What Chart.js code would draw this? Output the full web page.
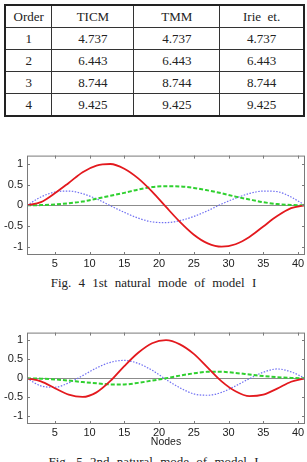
<!DOCTYPE html>
<html>
<head>
<meta charset="utf-8">
<script src="https://cdn.jsdelivr.net/npm/chart.js@4.4.0/dist/chart.umd.min.js"></script>
<style>
  html, body { margin: 0; padding: 0; background: #fff; }
  body { width: 307px; height: 462px; overflow: hidden; position: relative; }
  table {
    position: absolute; left: 4px; top: 4px; width: 301px;
    border-collapse: collapse; border: 2px solid #222;
    font-family: "Liberation Serif", serif; font-size: 13px; color: #222;
  }
  td { border: 1px solid #333; height: 21px; padding: 0; text-align: center; }
  canvas { position: absolute; left: 0; }
  .caption {
    position: absolute; left: 0; width: 307px; text-align: center;
    font-family: "Liberation Serif", serif; font-size: 13px; color: #222;
    word-spacing: 4px; line-height: 16px;
  }
</style>
</head>
<body>
<table id="freqTable"></table>
<canvas id="mode1Chart" width="307" height="125" style="top:145px"></canvas>
<div class="caption" style="top:275px">Fig. 4 1st natural mode of model I</div>
<canvas id="mode2Chart" width="307" height="126" style="top:322px"></canvas>
<div class="caption" style="top:454px">Fig. 5 2nd natural mode of model I</div>
<script>
// tablo verileri
const tableHeader = ['Order', 'TICM', 'TMM', 'Irie\u00a0 et.'];
const orders = ['1', '2', '3', '4'];
const ticm = ['4.737', '6.443', '8.744', '9.425'];
const tmm = ['4.737', '6.443', '8.744', '9.425'];
const irie = ['4.737', '6.443', '8.744', '9.425'];

// mod şekilleri (tek numaralı düğümlerde okunan değerler)
const nodes = [1, 3, 5, 7, 9, 11, 13, 15, 17, 19, 21, 23, 25, 27, 29, 31, 33, 35, 37, 39, 41];
const xTicks = [5, 10, 15, 20, 25, 30, 35, 40];
const yTicks = [-1, -0.5, 0, 0.5, 1];

const mode1Red = [0, 0.075, 0.29, 0.54, 0.80, 0.96, 0.997, 0.884, 0.65, 0.33, -0.04, -0.40, -0.71, -0.92, -1.0, -0.94, -0.765, -0.51, -0.26, -0.07, 0];
const mode1Green = [0, 0.005, 0.02, 0.05, 0.09, 0.16, 0.23, 0.30, 0.38, 0.44, 0.46, 0.455, 0.42, 0.36, 0.29, 0.21, 0.14, 0.075, 0.03, 0.008, 0];
const mode1Blue = [0, 0.20, 0.32, 0.344, 0.28, 0.155, -0.01, -0.17, -0.31, -0.40, -0.418, -0.37, -0.27, -0.13, 0.03, 0.17, 0.285, 0.344, 0.33, 0.20, 0];

const mode2Red = [0, -0.08, -0.26, -0.43, -0.49, -0.37, -0.07, 0.32, 0.67, 0.92, 1.0, 0.89, 0.64, 0.28, -0.08, -0.34, -0.47, -0.43, -0.27, -0.09, 0];
const mode2Green = [0, -0.01, -0.03, -0.06, -0.10, -0.13, -0.16, -0.16, -0.12, -0.06, 0.0, 0.07, 0.13, 0.17, 0.17, 0.14, 0.10, 0.06, 0.03, 0.01, 0];
const mode2Blue = [0, -0.20, -0.235, -0.12, 0.07, 0.27, 0.42, 0.47, 0.39, 0.21, -0.03, -0.25, -0.41, -0.445, -0.37, -0.20, -0.01, 0.16, 0.245, 0.17, 0];

const frameColor = '#7a7a7a';

function buildTable() {
    const table = document.getElementById('freqTable');
    const head = table.insertRow();
    const widths = [46, 83, 87, 85];
    tableHeader.forEach((h, i) => {
        const c = head.insertCell();
        c.textContent = h;
        c.style.width = widths[i] + 'px';
    });
    orders.forEach((o, i) => {
        const row = table.insertRow();
        [o, ticm[i], tmm[i], irie[i]].forEach(v => {
            row.insertCell().textContent = v;
        });
    });
}

// MATLAB tarzı çerçeve ve içe doğru tik çizgileri
const frameTicks = {
    id: 'frameTicks',
    afterDatasetsDraw(chart) {
        const { ctx, chartArea: a, scales: { x, y } } = chart;
        ctx.save();
        ctx.strokeStyle = frameColor;
        ctx.lineWidth = 1;
        ctx.strokeRect(a.left + 0.5, a.top + 0.5, a.right - a.left - 1, a.bottom - a.top - 1);
        ctx.beginPath();
        xTicks.forEach(v => {
            const px = Math.round(x.getPixelForValue(v)) + 0.5;
            ctx.moveTo(px, a.bottom); ctx.lineTo(px, a.bottom - 3);
            ctx.moveTo(px, a.top); ctx.lineTo(px, a.top + 3);
        });
        yTicks.forEach(v => {
            const py = Math.round(y.getPixelForValue(v)) + 0.5;
            ctx.moveTo(a.left, py); ctx.lineTo(a.left + 3, py);
            ctx.moveTo(a.right, py); ctx.lineTo(a.right - 3, py);
        });
        ctx.stroke();
        ctx.restore();
    }
};

function toPoints(values) {
    return nodes.map((n, i) => ({ x: n, y: values[i] }));
}

function renderModeChart(canvasId, red, green, blue, opts) {
    const ctx = document.getElementById(canvasId).getContext('2d');
    const tickFont = { family: 'Liberation Sans, Arial, sans-serif', size: 11 };

    return new Chart(ctx, {
        type: 'line',
        data: {
            datasets: [
                {
                    data: toPoints(red), borderColor: '#e3191e', borderWidth: 1.8,
                    cubicInterpolationMode: 'monotone', pointRadius: 0, order: 0
                },
                {
                    data: toPoints(green), borderColor: '#2fd02f', borderWidth: 2,
                    borderDash: [4, 2], cubicInterpolationMode: 'monotone', pointRadius: 0, order: 1
                },
                {
                    data: toPoints(blue), borderColor: '#6f6ff2', borderWidth: 1.2,
                    borderDash: [1.5, 1.5], cubicInterpolationMode: 'monotone', pointRadius: 0, order: 2
                }
            ]
        },
        options: {
            responsive: false,
            animation: false,
            devicePixelRatio: 1,
            layout: { padding: { top: opts.top, right: 2, left: 0, bottom: 0 } },
            plugins: { legend: { display: false }, tooltip: { enabled: false } },
            scales: {
                x: {
                    type: 'linear', min: 1, max: 41,
                    afterBuildTicks: s => { s.ticks = xTicks.map(v => ({ value: v })); },
                    afterFit: s => { s.height = opts.xHeight; },
                    grid: { display: false, drawTicks: false },
                    border: { display: false },
                    ticks: { color: '#222', font: tickFont, padding: 2, maxRotation: 0, callback: v => String(v) },
                    title: {
                        display: !!opts.xTitle, text: opts.xTitle || '', color: '#222',
                        font: { family: 'Liberation Sans, Arial, sans-serif', size: 10.5 },
                        padding: { top: 0, bottom: 0 }
                    }
                },
                y: {
                    min: -1.2, max: 1.2,
                    afterBuildTicks: s => { s.ticks = yTicks.map(v => ({ value: v })); },
                    afterFit: s => { s.width = 27; },
                    grid: {
                        drawTicks: false,
                        color: c => c.tick && c.tick.value === 0 ? '#8c8c8c' : 'rgba(0,0,0,0)'
                    },
                    border: { display: false },
                    ticks: { color: '#222', font: tickFont, padding: 4, callback: v => String(v) }
                }
            }
        },
        plugins: [frameTicks]
    });
}

buildTable();
renderModeChart('mode1Chart', mode1Red, mode1Green, mode1Blue, { top: 9, xHeight: 15 });
renderModeChart('mode2Chart', mode2Red, mode2Green, mode2Blue, { top: 8, xHeight: 24, xTitle: 'Nodes' });
</script>
</body>
</html>
